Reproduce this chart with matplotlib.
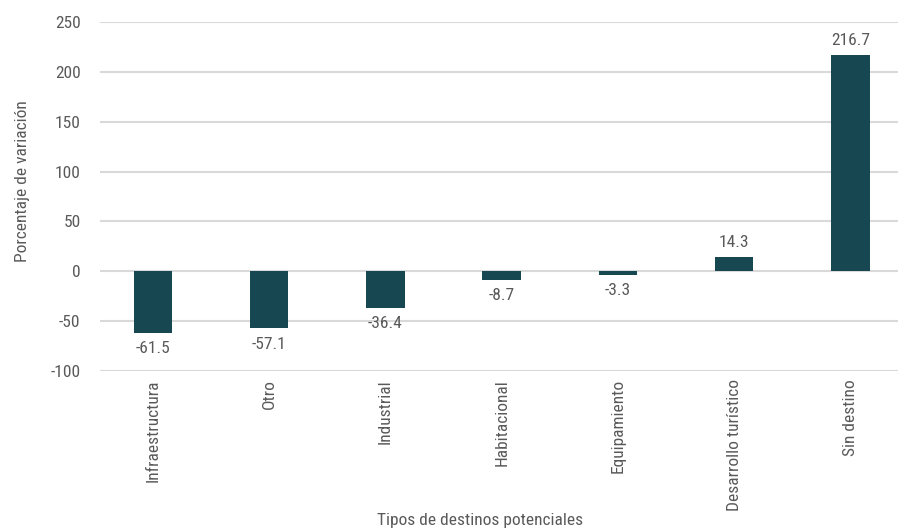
import matplotlib.pyplot as plt
import matplotlib.font_manager as fm

categories = ["Infraestructura", "Otro", "Industrial", "Habitacional",
              "Equipamiento", "Desarrollo turístico", "Sin destino"]
values = [-61.5, -57.1, -36.4, -8.7, -3.3, 14.3, 216.7]
yticks = [-100, -50, 0, 50, 100, 150, 200, 250]

names = {f.name for f in fm.fontManager.ttflist}
fam = [f for f in ["Liberation Sans Narrow", "Roboto Condensed", "Open Sans Condensed"] if f in names]
plt.rcParams["font.family"] = fam + ["DejaVu Sans"]
plt.rcParams["axes.unicode_minus"] = False

bar_color = "#174852"
text_color = "#595959"
grid_color = "#d9d9d9"
fs = 12.5

fig = plt.figure(figsize=(8.98, 5.30), dpi=100)
ax = fig.add_axes([100 / 898, 1 - 371 / 530, 798 / 898, 349 / 530])

x = list(range(len(categories)))
ax.bar(x, values, width=0.33, color=bar_color, zorder=3)

for xi, v in zip(x, values):
    if v >= 0:
        ax.annotate(f"{v}", (xi, v), xytext=(0, 5), textcoords="offset points",
                    ha="center", va="bottom", fontsize=fs, color=text_color)
    else:
        ax.annotate(f"{v}", (xi, v), xytext=(0, -6), textcoords="offset points",
                    ha="center", va="top", fontsize=fs, color=text_color)

ax.set_xlim(-0.456, 6.41)
ax.set_ylim(-100, 250)
ax.set_yticks(yticks)
ax.set_xticks(x)
ax.set_xticklabels(categories, rotation=90, fontsize=fs, color=text_color)
ax.tick_params(axis="y", labelsize=fs, labelcolor=text_color, length=0, pad=14)
ax.tick_params(axis="x", length=0, pad=6)
ax.yaxis.grid(True, color=grid_color, lw=1.5, zorder=0)
for s in ax.spines.values():
    s.set_visible(False)

ax.set_ylabel("Porcentaje de variación", fontsize=fs, color=text_color)
ax.yaxis.set_label_coords(-(100 - 23) / 798, 0.544)
ax.yaxis.label.set_va("center")
fig.text(480 / 898, 1 - 520 / 530, "Tipos de destinos potenciales", fontsize=fs,
         color=text_color, ha="center", va="center")

fig.savefig("out.png", dpi=100)
